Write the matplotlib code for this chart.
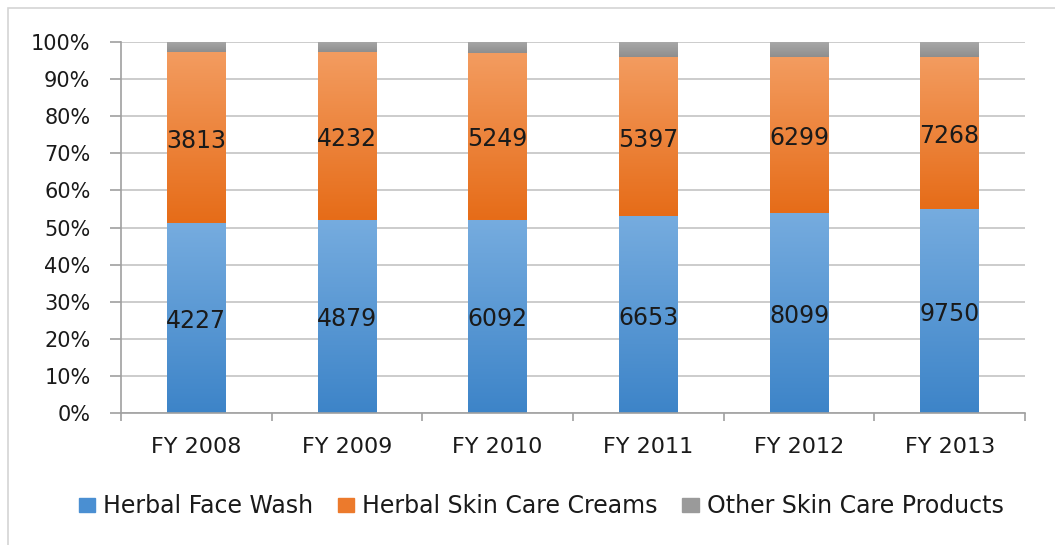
import numpy as np
import matplotlib
matplotlib.use("Agg")
import matplotlib.pyplot as plt
from matplotlib.colors import LinearSegmentedColormap
from matplotlib.patches import Rectangle
from matplotlib.ticker import FixedLocator, PercentFormatter

# Sales figures per fiscal year
years = ["FY 2008", "FY 2009", "FY 2010", "FY 2011", "FY 2012", "FY 2013"]
face_wash = [4227, 4879, 6092, 6653, 8099, 9750]
skin_creams = [3813, 4232, 5249, 5397, 6299, 7268]
other_products = [223, 253, 351, 502, 600, 709]
series_names = ["Herbal Face Wash", "Herbal Skin Care Creams", "Other Skin Care Products"]

plt.rcParams["font.family"] = ["DejaVu Sans"]

W, H = 1055, 545
fig = plt.figure(figsize=(W / 100, H / 100), dpi=100)
fig.patch.set_facecolor("white")

# outer chart frame
fig.add_artist(Rectangle((8 / W, -0.1), 1.2, 1 - 8 / H + 0.1, transform=fig.transFigure,
                         fill=False, edgecolor="#d4d4d4", linewidth=1.2))

ax = fig.add_axes([121 / W, 1 - 413 / H, (1025 - 121) / W, (413 - 42) / H])

data = np.array([face_wash, skin_creams, other_products], dtype=float)
totals = data.sum(axis=0)
shares = data / totals * 100

x = np.arange(len(years))
bar_w = 0.39
gradients = [("#76acdf", "#3d84c8"), ("#f39c60", "#e66c18"), ("#a8a8a8", "#8e8e8e")]
flat_colors = ["#4a8fd2", "#ec7a2c", "#9a9a9a"]

bottom = np.zeros(len(years))
for i, (vals, pct) in enumerate(zip(data, shares)):
    bars = ax.bar(x, pct, bar_w, bottom=bottom, color=flat_colors[i], zorder=2,
                  linewidth=0, label=series_names[i])
    cmap = LinearSegmentedColormap.from_list(f"g{i}", [gradients[i][1], gradients[i][0]])
    grad = np.linspace(0, 1, 256).reshape(-1, 1)
    for b in bars:
        bx, by = b.get_x(), b.get_y()
        bw, bh = b.get_width(), b.get_height()
        im = ax.imshow(grad, cmap=cmap, aspect="auto", origin="lower",
                       extent=[bx, bx + bw, by, by + bh], zorder=2.5)
        im.set_clip_path(b)
    if i < 2:
        for xi, v, b0, p in zip(x, vals, bottom, pct):
            ax.text(xi, b0 + p / 2 - 0.8, f"{int(v)}", ha="center", va="center",
                    fontsize=17, color="#1a1a1a", zorder=4)
    bottom += pct

ax.set_xlim(-0.5, len(years) - 0.5)
ax.set_ylim(0, 100)
ax.yaxis.set_major_locator(FixedLocator(np.arange(0, 101, 10)))
ax.yaxis.set_major_formatter(PercentFormatter(decimals=0))
ax.grid(axis="y", color="#c4c4c4", linewidth=1.2, zorder=0)
ax.set_axisbelow(True)

ax.set_xticks(x)
ax.set_xticklabels(years, fontsize=16, color="#1a1a1a")
ax.xaxis.set_minor_locator(FixedLocator(np.arange(-0.5, len(years), 1)))
ax.tick_params(axis="x", which="major", length=0, pad=17)
ax.tick_params(axis="x", which="minor", length=6, color="#a0a0a0", width=1.2)
ax.tick_params(axis="y", length=8, color="#a0a0a0", width=1.2, pad=14,
               labelsize=15, labelcolor="#1a1a1a")

for s in ["top", "right"]:
    ax.spines[s].set_visible(False)
for s in ["left", "bottom"]:
    ax.spines[s].set_color("#a0a0a0")
    ax.spines[s].set_linewidth(1.2)

handles = [Rectangle((0, 0), 1, 1, color=c) for c in flat_colors]
fig.legend(handles, series_names, loc="center", bbox_to_anchor=(541 / W, 1 - 506 / H),
           ncol=3, frameon=False, fontsize=17, handlelength=0.68, handleheight=0.55,
           handletextpad=0.34, columnspacing=1.06, labelcolor="#1a1a1a")

fig.savefig("out.png", dpi=100, facecolor="white")
